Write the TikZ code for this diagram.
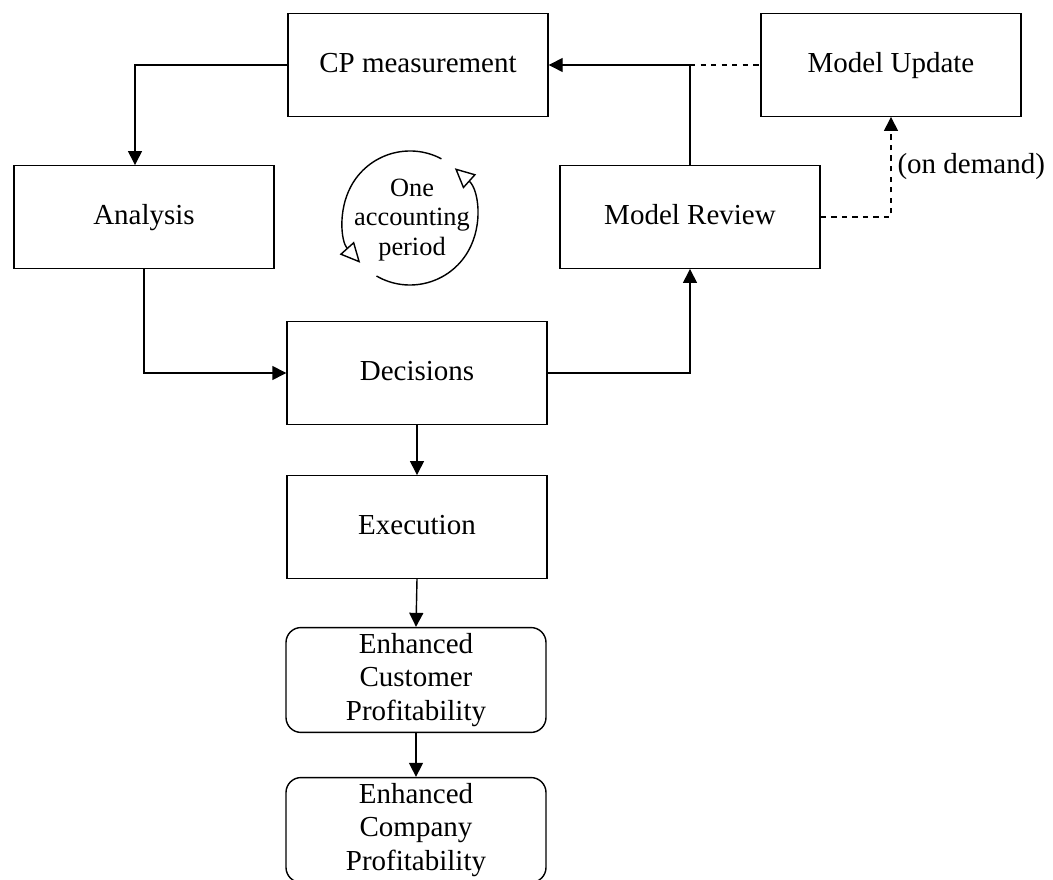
\documentclass[tikz,border=0pt]{standalone}
\usepackage{fontspec}
\setmainfont{Liberation Serif}
\usepackage{tikz}
\usetikzlibrary{arrows.meta, positioning, calc}

\begin{document}
\begin{tikzpicture}[>={Triangle[length=0.28cm, width=0.28cm]}, line width=0.8pt,
    stepbox/.style={draw, minimum width=5.2cm, minimum height=2.05cm, align=center, font=\fontsize{16.5}{19}\selectfont},
    linebox/.style={stepbox, text height=0.9em, text depth=0pt},
    endbox/.style={stepbox, rounded corners=0.3cm},
    cycarrow/.style={-{Triangle[open, length=0.4cm, width=0.38cm]}}]
    \useasboundingbox (0,0) rectangle (21.06,17.6);
    % Top row
    \node[linebox] (cp) at (8.36, 16.30) {CP measurement};
    \node[linebox] (upd) at (17.82, 16.30) {Model Update};
    % Middle row
    \node[linebox] (ana) at (2.88, 13.26) {Analysis};
    \node[linebox] (rev) at (13.80, 13.26) {Model Review};
    % Main column
    \node[linebox] (dec) at (8.34, 10.14) {Decisions};
    \node[linebox] (exe) at (8.34, 7.06) {Execution};
    \node[endbox] (ecp) at (8.32, 4.00) {Enhanced\\Customer\\Profitability};
    \node[endbox, minimum height=1.92cm] (eco) at (8.32, 1.00) {Enhanced\\Company\\Profitability};
    % Accounting cycle
    \coordinate (cyc) at (8.20, 13.24);
    \node[align=center, font=\fontsize{15}{17}\selectfont] (cyctxt) at (8.24, 13.20) {One\\accounting\\period};
    \draw[cycarrow] (cyc) ++(-120:1.34) arc[start angle=-120, end angle=48, radius=1.34];
    \draw[cycarrow] (cyc) ++(62:1.34) arc[start angle=62, end angle=222, radius=1.34];
    % Connectors
    \coordinate (jn) at (rev.north |- cp.east);
    \draw[->] (cp.west) -| ([xshift=-0.18cm]ana.north);
    \draw[->] (ana.south) |- (dec.west);
    \draw[->] (dec.east) -| (rev.south);
    \draw[->] (rev.north) |- (cp.east);
    \draw[dashed] (jn) -- (upd.west);
    \draw[->, dashed] (rev.east) -| (upd.south)
        node[right, pos=0.75, font=\fontsize{16.5}{19}\selectfont] {(on demand)};
    \draw[->] (dec.south) -- (exe.north);
    \draw[->] (exe.south) -- (ecp.north);
    \draw[->] (ecp.south) -- (eco.north);
\end{tikzpicture}
\end{document}
